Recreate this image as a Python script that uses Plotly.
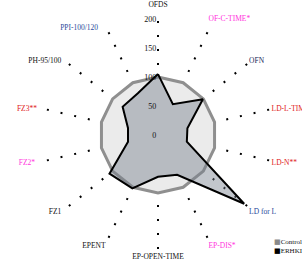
import plotly.graph_objects as go

categories = ["OFDS", "OF-C-TIME*", "OFN", "LD-L-TIME**", "LD-N**", "LD for L",
              "EP-DIS*", "EP-OPEN-TIME", "EPENT", "FZ1", "FZ2*", "FZ3**",
              "PH-95/100", "PPI-100/120"]
label_colors = ["#111111", "#ff33dd", "#1a2a5a", "#e02020", "#e02020", "#2a4a9a",
                "#ff33dd", "#111111", "#111111", "#111111", "#ff33dd", "#e02020",
                "#111111", "#2a4a9a"]
control = [100, 100, 100, 100, 100, 100, 100, 100, 100, 100, 100, 100, 100, 100]
erhki = [105, 59, 99, 52, 51, 190, 76, 72, 102, 107, 53, 53, 78, 80]
radial_ticks = [0, 50, 100, 150, 200]
series_names = ["Control", "ERHKI"]
series_legend_colors = ["#8a8a8a", "#000000"]

theta = categories + categories[:1]

# text padding so labels sit a little further from the spokes (like the reference)
NB = "\u00a0"
pad_after = {"EPENT": 1, "FZ1": 3, "FZ2*": 5, "FZ3**": 4, "PH-95/100": 3, "PPI-100/120": 5}
lift = {"OFDS", "OF-C-TIME*"}
ticktext = []
for t, c in zip(categories, label_colors):
    s = t + NB * pad_after.get(t, 0)
    s = f'<span style="color:{c}">{s}</span>'
    if t in lift:
        s = s + "<br>" + NB
    ticktext.append(s)

fig = go.Figure()
fig.add_trace(go.Scatterpolar(
    r=control + control[:1], theta=theta, name=series_names[0], mode="lines",
    fill="toself", fillcolor="#ebebeb", line=dict(color="#8f8f8f", width=3),
    hoverinfo="skip"))
fig.add_trace(go.Scatterpolar(
    r=erhki + erhki[:1], theta=theta, name=series_names[1], mode="lines",
    fill="toself", fillcolor="rgba(120,128,142,0.45)", line=dict(color="#000000", width=2),
    hoverinfo="skip"))

# manual compact legend (real text)
legend_y = [0.037, -0.002]
for name, col, yy in zip(series_names, series_legend_colors, legend_y):
    fig.add_annotation(
        xref="paper", yref="paper", x=0.99, y=yy, xanchor="left", yanchor="middle",
        showarrow=False,
        text=f'<span style="color:{col};font-family:DejaVu Sans">■</span>{name}',
        font=dict(size=7, family="Liberation Serif", color="#111111"))

fig.update_layout(
    width=302, height=271,
    margin=dict(l=42, r=28, t=19, b=20, autoexpand=False),
    paper_bgcolor="white",
    hovermode=False,
    font=dict(family="Liberation Serif", size=8, color="#111111"),
    showlegend=False,
    polar=dict(
        domain=dict(x=[0, 1], y=[0, 1]),
        bgcolor="white",
        radialaxis=dict(range=[0, 200], tickvals=radial_ticks, angle=90, tickangle=90,
                        side="counterclockwise", ticksuffix=NB * 4,
                        showline=False, showgrid=False, ticks="",
                        tickfont=dict(size=8, family="Liberation Serif", color="#111111")),
        angularaxis=dict(direction="clockwise", rotation=90, showline=False,
                         tickmode="array", tickvals=categories, ticktext=ticktext,
                         ticks="",
                         gridcolor="#000000", griddash="2px,12px", gridwidth=2,
                         tickfont=dict(size=7.5, family="Liberation Serif")),
    ),
)

fig.write_html("out.html", config={"displayModeBar": False},
               post_script="document.body.style.margin='0';")
